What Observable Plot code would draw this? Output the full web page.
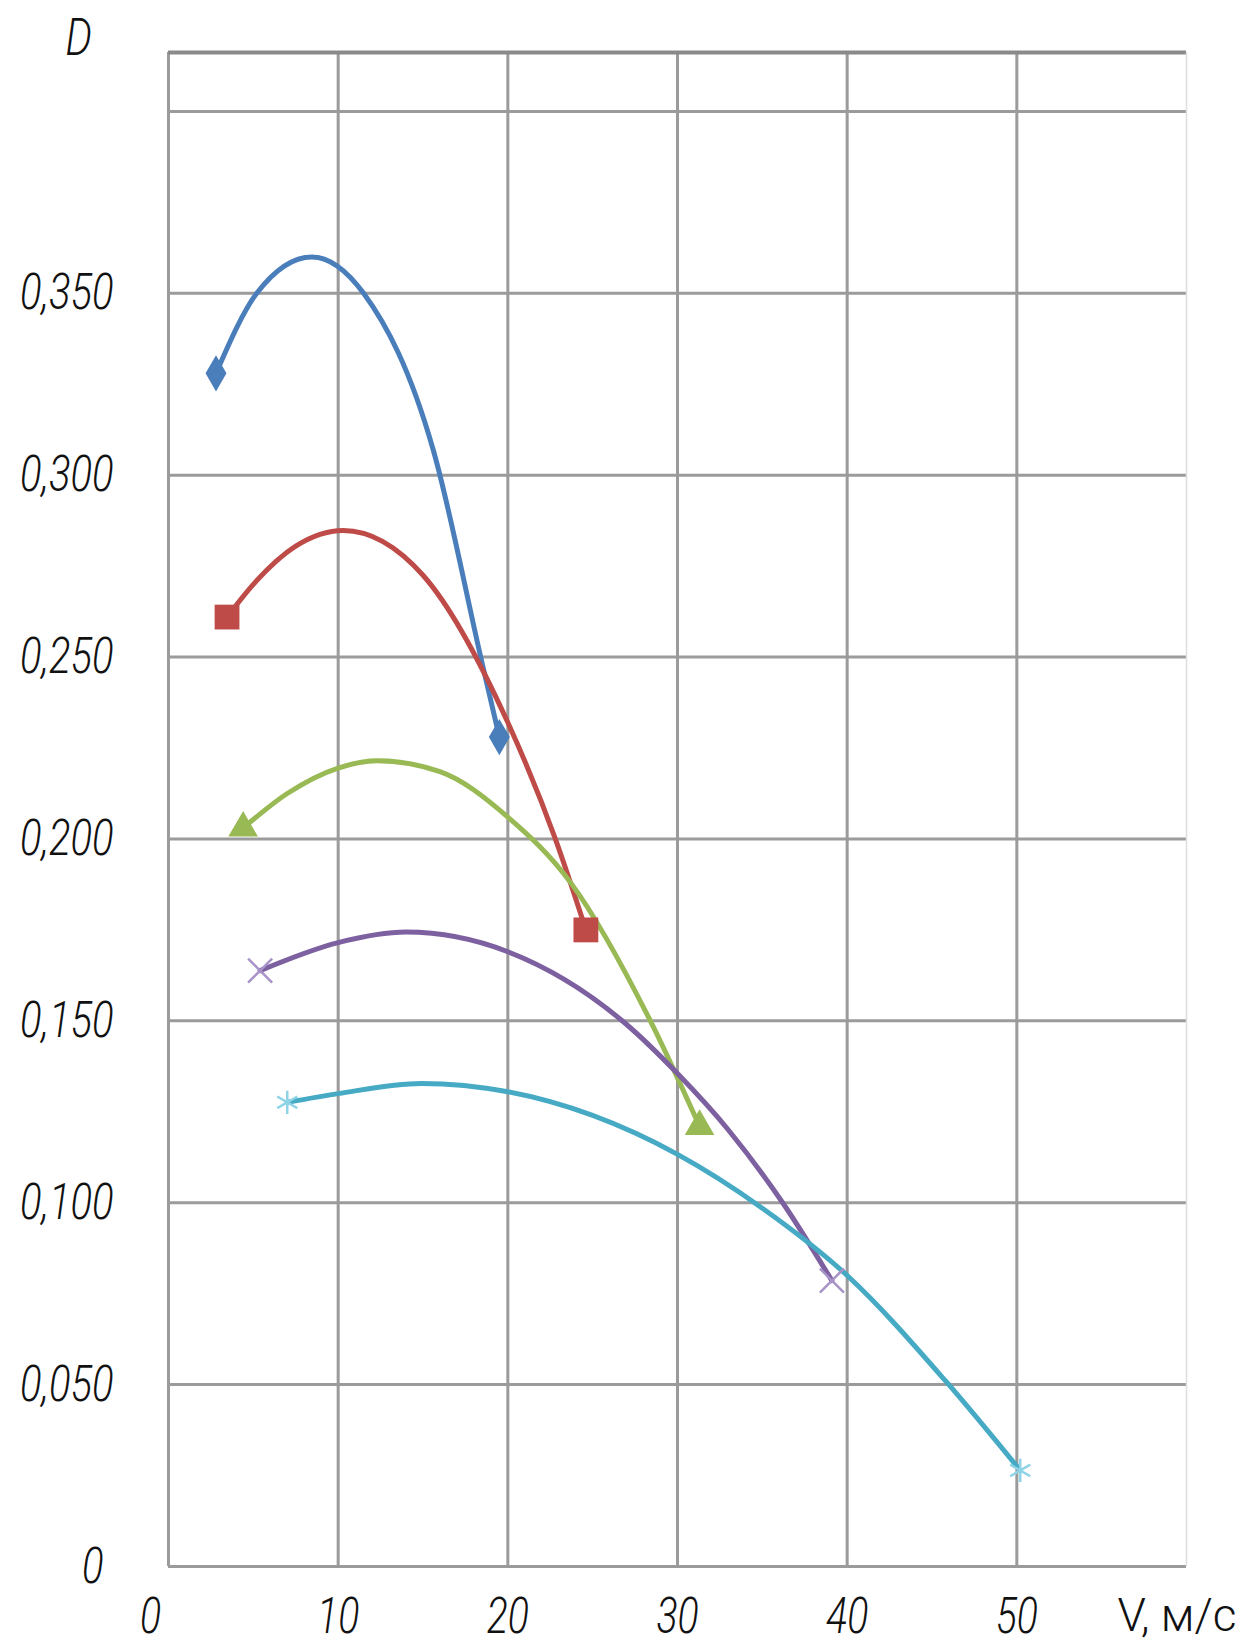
<!DOCTYPE html>
<html>
<head>
<meta charset="utf-8">
<script src="https://cdn.jsdelivr.net/npm/d3@7"></script>
<script src="https://cdn.jsdelivr.net/npm/@observablehq/plot@0.6"></script>
<style>
  html, body { margin: 0; padding: 0; background: #fff; }
</style>
</head>
<body>
<div id="chart"></div>
<script>
// ---- Data ----
const xTicks = [0, 10, 20, 30, 40, 50];
const yTicks = [0, 0.05, 0.10, 0.15, 0.20, 0.25, 0.30, 0.35];
const yExtraGrid = [0.40];
const xMax = 60;
const yMax = 0.4162;

const yLabel = "D";
const xLabel = "V, м/с";

const blueV   = [2.8, 5.2, 8.45, 11.5, 15.6, 18.5, 19.5];
const blueD   = [0.328, 0.350, 0.360, 0.350, 0.307, 0.248, 0.228];

const redV    = [3.45, 5.0, 7.5, 10.3, 15.0, 20.0, 22.8, 24.6];
const redD    = [0.261, 0.270, 0.2805, 0.2848, 0.2725, 0.232, 0.200, 0.175];

const greenV  = [4.4, 7.0, 10.0, 12.3, 16.0, 20.0, 23.7, 28.4, 31.3];
const greenD  = [0.203, 0.2125, 0.2195, 0.2215, 0.2185, 0.206, 0.188, 0.150, 0.121];

const purpleV = [5.4, 10.0, 14.0, 20.0, 27.0, 30.0, 33.0, 36.2, 39.1];
const purpleD = [0.1638, 0.1715, 0.1744, 0.169, 0.149, 0.1355, 0.120, 0.100, 0.0786];

const cyanV   = [7.0, 10.0, 14.9, 20.0, 30.0, 35.0, 40.0, 45.8, 50.2];
const cyanD   = [0.1276, 0.130, 0.1328, 0.1305, 0.1133, 0.0985, 0.080, 0.051, 0.0264];

const seriesNames  = ["blue", "red", "green", "purple", "cyan"];
const seriesV      = [blueV, redV, greenV, purpleV, cyanV];
const seriesD      = [blueD, redD, greenD, purpleD, cyanD];
const lineColors   = ["#4a7ebb", "#be4b48", "#98b954", "#7d60a0", "#46aac5"];
const markColors   = ["#4a7ebb", "#be4b48", "#98b954", "#a893c8", "#8fd3e6"];
const markSymbols  = ["diamond", "square", "triangle", "times", "asterisk"];
const markSizes    = [11, 14, 11, 11, 11];

// ---- Build tables ----
const rows = [];
seriesNames.forEach((s, k) => {
  seriesV[k].forEach((v, i) => {
    rows.push({series: s, k, v, d: seriesD[k][i], end: i === 0 || i === seriesV[k].length - 1});
  });
});

const fmtY = d => d === 0 ? "0" : d3.format(".3f")(d).replace(".", ",");

const gridColor = "#9b9b9b";
const marks = [
  Plot.ruleX(xTicks, {stroke: gridColor, strokeWidth: 3}),
  Plot.ruleY([...yTicks, ...yExtraGrid], {stroke: gridColor, strokeWidth: 3}),
  Plot.ruleY([yMax], {stroke: "#8a8a8a", strokeWidth: 4}),
  Plot.ruleX([xMax], {stroke: "#dedede", strokeWidth: 1.5}),
  Plot.axisX({ticks: xTicks, tickSize: 0, tickPadding: 32, tickFormat: d => String(d),
    fontSize: 49, fontStyle: "italic", fontWeight: 300, label: null, className: "sqx"}),
  Plot.axisY({ticks: yTicks, tickSize: 0, tickPadding: 55, tickFormat: fmtY,
    fontSize: 50, fontStyle: "italic", fontWeight: 300, label: null, className: "sqy"})
];

seriesNames.forEach((s, k) => {
  const data = rows.filter(r => r.series === s);
  marks.push(Plot.line(data, {x: "v", y: "d", stroke: lineColors[k], strokeWidth: 5, curve: "monotone-x"}));
});
seriesNames.forEach((s, k) => {
  const data = rows.filter(r => r.series === s && r.end);
  const sym = markSymbols[k];
  const filled = ["diamond", "square", "triangle"].includes(sym);
  marks.push(Plot.dot(data, {
    x: "v", y: "d", symbol: sym, r: markSizes[k],
    fill: filled ? markColors[k] : "none",
    stroke: filled ? "none" : markColors[k],
    strokeWidth: filled ? 0 : 2.5
  }));
});

marks.push(Plot.text([yLabel], {frameAnchor: "top-left", dx: -103, dy: -34, lineAnchor: "top",
  textAnchor: "start", fontSize: 52, fontStyle: "italic", fontWeight: 300, className: "sqd"}));
marks.push(Plot.text([xLabel], {frameAnchor: "bottom-right", dx: -69, dy: 32, lineAnchor: "top",
  textAnchor: "start", fontSize: 46, fontStyle: "normal", fontWeight: 300}));

const chart = Plot.plot({
  width: 1249,
  height: 1648,
  marginLeft: 168,
  marginRight: 63,
  marginTop: 52,
  marginBottom: 82,
  style: {fontFamily: "Roboto, 'DejaVu Sans', sans-serif", color: "#111", background: "#fff"},
  x: {domain: [0, xMax]},
  y: {domain: [0, yMax]},
  marks
});

// Narrow the glyphs of the italic labels (the reference uses a condensed drafting font)
const squeeze = 0.8;
chart.querySelectorAll(".sqx text, .sqy text, .sqd text").forEach(el => {
  const x = +(el.getAttribute("x") || 0);
  const t = el.getAttribute("transform") || "";
  let shift = 0;
  if (el.textContent === "0") shift = el.closest(".sqx") ? -18 : -10;
  el.setAttribute("transform", `${t} translate(${x + shift},0) scale(${squeeze},1) translate(${-x},0)`);
});
document.getElementById("chart").appendChild(chart);
</script>
</body>
</html>
